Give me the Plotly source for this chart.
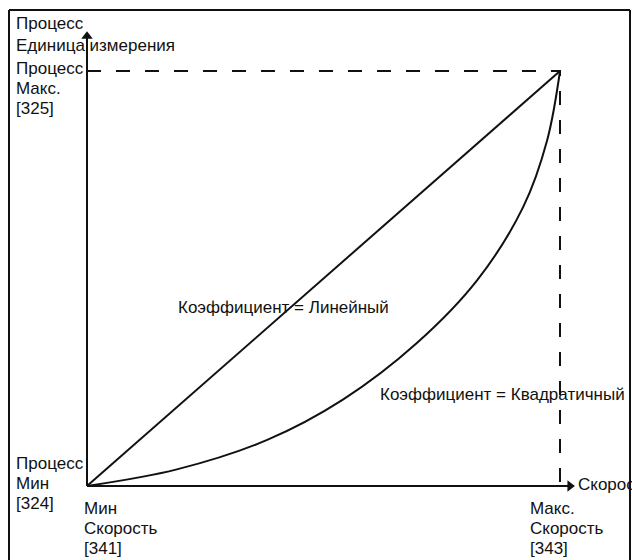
import plotly.graph_objects as go

# process value (percent of max) against speed (percent of max)
speed_linear = [0, 100]
process_linear = [0, 100]

speed_quad = [0, 19.0, 38.1, 54.1, 69.8, 82.5, 92.2, 97.3, 100]
process_quad = [0, 4.0, 11.1, 20.8, 34.5, 49.6, 67.2, 83.4, 100]

W, H = 632, 560
X0, Y0 = 87, 486        # pixel of origin
SX, SY = 4.73, 4.15     # pixels per percent
FONT = dict(family="Liberation Sans, Arial, sans-serif", size=17, color="#111111")


def px(x):
    return x / W


def py(y):
    return 1 - y / H


fig = go.Figure()

# axes with arrow heads
fig.add_trace(go.Scatter(x=[0, 0], y=[0, 108], mode="lines",
                         line=dict(color="#111111", width=2), hoverinfo="skip"))
fig.add_trace(go.Scatter(x=[0, 102], y=[0, 0], mode="lines",
                         line=dict(color="#111111", width=2), hoverinfo="skip"))
fig.add_trace(go.Scatter(x=[0], y=[108.4], mode="markers",
                         marker=dict(symbol="triangle-up", size=10, color="#111111"),
                         hoverinfo="skip"))
fig.add_trace(go.Scatter(x=[102.1], y=[0], mode="markers",
                         marker=dict(symbol="triangle-right", size=10, color="#111111"),
                         hoverinfo="skip"))

# dashed max lines
fig.add_trace(go.Scatter(x=[0, 100, 100], y=[100, 100, 0], mode="lines",
                         line=dict(color="#111111", width=2, dash="14px,15px"),
                         hoverinfo="skip"))

# curves
fig.add_trace(go.Scatter(x=speed_linear, y=process_linear, mode="lines",
                         line=dict(color="#111111", width=2), hoverinfo="skip"))
fig.add_trace(go.Scatter(x=speed_quad, y=process_quad, mode="lines",
                         line=dict(color="#111111", width=2, shape="spline", smoothing=1.0),
                         hoverinfo="skip"))

# one annotation per text line: (text, left x px, centre y px)
labels = [
    ("Процесс", 15, 24),
    ("Единица измерения", 15, 45.5),
    ("Процесс", 15, 68.5),
    ("Макс.", 15, 88.5),
    ("[325]", 15, 108.5),
    ("Процесс", 15, 463.5),
    ("Мин", 15, 483.5),
    ("[324]", 15, 503.5),
    ("Мин", 83, 508.5),
    ("Скорость", 83, 528.5),
    ("[341]", 83, 548.5),
    ("Макс.", 529, 508),
    ("Скорость", 529, 528),
    ("[343]", 529, 548),
    ("Скорость", 577, 484),
    ("Коэффициент = Линейный", 177, 307),
    ("Коэффициент = Квадратичный", 379, 394),
]
for text, x, y in labels:
    fig.add_annotation(text=text, x=px(x), y=py(y), xref="paper", yref="paper",
                       xanchor="left", yanchor="middle", align="left",
                       showarrow=False, borderpad=0, font=FONT)

# frame (left, top, right)
for x0, y0, x1, y1 in [(9, 560, 9, 10), (9, 10, 630, 10), (630, 10, 630, 560)]:
    fig.add_shape(type="line", xref="paper", yref="paper",
                  x0=px(x0), y0=py(y0), x1=px(x1), y1=py(y1),
                  line=dict(color="#111111", width=2))

fig.update_layout(
    width=W, height=H,
    margin=dict(l=0, r=0, t=0, b=0),
    paper_bgcolor="white", plot_bgcolor="white",
    showlegend=False,
    xaxis=dict(visible=False, range=[-X0 / SX, (W - X0) / SX], fixedrange=True),
    yaxis=dict(visible=False, range=[-(H - Y0) / SY, Y0 / SY], fixedrange=True),
)

fig.write_html("out.html", config={"displayModeBar": False},
               post_script="document.body.style.margin='0';"
                           "document.body.style.overflow='hidden';")
